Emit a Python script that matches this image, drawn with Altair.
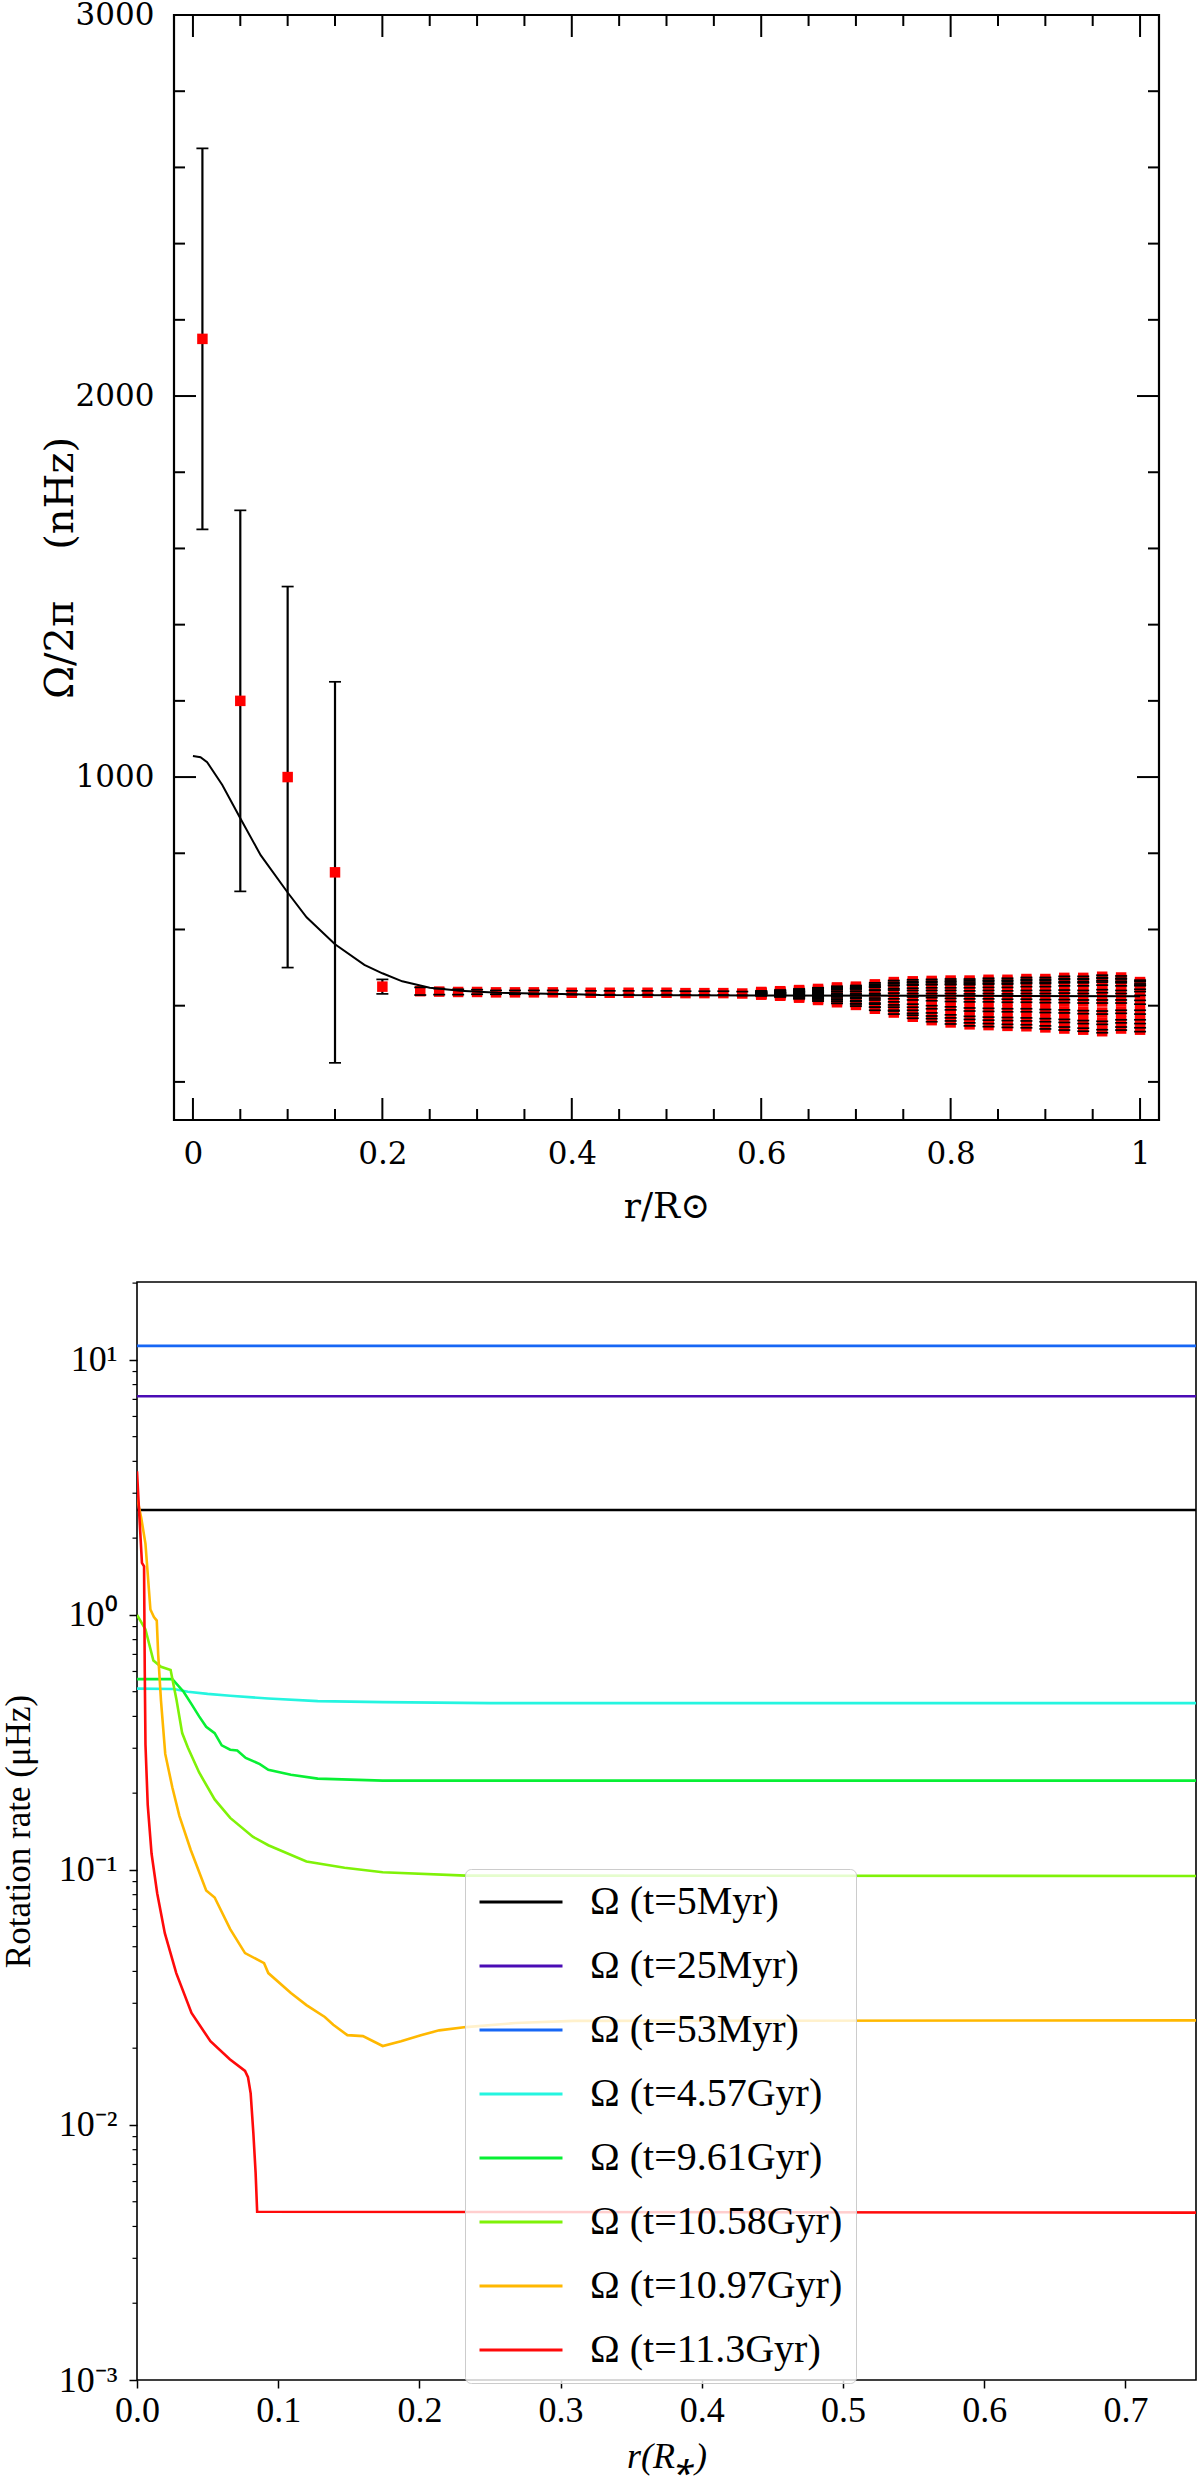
import altair as alt
import pandas as pd

# ---------------- top panel data (Omega/2pi in nHz vs r/Rsun) ----------------
inner_r = [0.01, 0.05, 0.10, 0.15, 0.20, 0.24, 0.26, 0.28, 0.30, 0.32, 0.34, 0.36,
           0.38, 0.40, 0.42, 0.44, 0.46, 0.48, 0.50, 0.52, 0.54, 0.56, 0.58]
inner_val = [2150, 1200, 1000, 750, 450, 438, 437, 436, 436, 435, 435, 435,
             435, 434, 434, 434, 434, 434, 434, 433, 433, 433, 432]
inner_err = [500, 500, 500, 500, 19, 10, 8, 7, 6, 5, 5, 5,
             5, 5, 5, 5, 5, 5, 5, 5, 5, 5, 5]

outer_r = [0.60, 0.62, 0.64, 0.66, 0.68, 0.70, 0.72, 0.74, 0.76, 0.78, 0.80,
           0.82, 0.84, 0.86, 0.88, 0.90, 0.92, 0.94, 0.96, 0.98, 1.00]
outer_val = [
    [436, 435, 434, 433, 432, 431, 430, 429],
    [438, 437, 435, 433, 431, 429, 427, 426],
    [441, 439, 436, 433, 429, 426, 423, 421],
    [444, 441, 437, 433, 428, 423, 418, 415],
    [448, 445, 440, 434, 427, 420, 414, 409],
    [450, 447, 441, 434, 425, 416, 408, 402],
    [456, 452, 445, 436, 424, 411, 400, 392],
    [462, 457, 449, 437, 422, 406, 392, 382],
    [464, 459, 450, 436, 419, 400, 384, 371],
    [465, 460, 451, 436, 417, 396, 377, 362],
    [466, 461, 451, 436, 415, 393, 372, 356],
    [466, 462, 451, 435, 414, 390, 368, 351],
    [468, 463, 452, 436, 414, 389, 366, 349],
    [468, 463, 452, 435, 413, 388, 365, 347],
    [470, 465, 454, 436, 413, 388, 364, 346],
    [470, 465, 454, 436, 412, 386, 362, 343],
    [473, 467, 456, 437, 412, 385, 360, 340],
    [473, 467, 456, 436, 411, 383, 357, 337],
    [476, 470, 458, 438, 411, 382, 355, 333],
    [474, 468, 456, 436, 411, 384, 359, 340],
    [462, 458, 448, 432, 409, 383, 358, 337],
]
outer_err = [3, 3, 3, 3, 3, 3, 4, 4, 4, 4, 4, 4, 4, 4, 4, 4, 4, 4, 4, 4, 5]

model_r = [0.0, 0.008, 0.015, 0.031, 0.05, 0.0715, 0.10, 0.12, 0.15, 0.181, 0.20,
           0.221, 0.25, 0.282, 0.322, 0.403, 0.43, 0.6, 0.8, 1.0]
model_val = [1055, 1052, 1039, 979, 892, 795, 697, 632, 561, 507, 485,
             464, 447, 439, 434, 430, 428, 427, 426, 425]

top_y_major = [1000, 2000, 3000]
top_y_minor = [200, 400, 600, 800, 1200, 1400, 1600, 1800, 2200, 2400, 2600, 2800]
top_x_major = [0.0, 0.2, 0.4, 0.6, 0.8, 1.0]
top_x_minor = [0.05, 0.1, 0.15, 0.25, 0.3, 0.35, 0.45, 0.5, 0.55, 0.65, 0.7,
               0.75, 0.85, 0.9, 0.95]

# ---------------- bottom panel data (rotation rate in microHz vs r/R*) ----------------
labels = ["Ω (t=5Myr)", "Ω (t=25Myr)", "Ω (t=53Myr)", "Ω (t=4.57Gyr)",
          "Ω (t=9.61Gyr)", "Ω (t=10.58Gyr)", "Ω (t=10.97Gyr)", "Ω (t=11.3Gyr)"]
colors = ["#000000", "#4a0cb5", "#1767f5", "#25f5e0",
          "#08f034", "#7ff208", "#ffb800", "#ff0a0a"]

x_5myr = [0.0, 0.75]
y_5myr = [2.58, 2.58]
x_25myr = [0.0, 0.75]
y_25myr = [7.2, 7.2]
x_53myr = [0.0, 0.75]
y_53myr = [11.35, 11.35]
x_457 = [0.0, 0.026, 0.036, 0.05, 0.066, 0.093, 0.128, 0.174, 0.25, 0.75]
y_457 = [0.514, 0.512, 0.50, 0.49, 0.482, 0.47, 0.459, 0.455, 0.451, 0.451]
x_961 = [0.0, 0.025, 0.033, 0.0386, 0.044, 0.049, 0.055, 0.06, 0.066, 0.071, 0.077,
         0.087, 0.093, 0.109, 0.128, 0.174, 0.25, 0.75]
y_961 = [0.56, 0.56, 0.50, 0.447, 0.40, 0.364, 0.344, 0.308, 0.296, 0.294, 0.275,
         0.26, 0.247, 0.236, 0.228, 0.224, 0.224, 0.224]
x_1058 = [0.0, 0.006, 0.0116, 0.017, 0.0238, 0.028, 0.032, 0.036, 0.044, 0.055,
          0.066, 0.082, 0.093, 0.12, 0.147, 0.174, 0.233, 0.75]
y_1058 = [1.0, 0.877, 0.662, 0.626, 0.608, 0.464, 0.344, 0.302, 0.241, 0.189,
          0.16, 0.135, 0.125, 0.108, 0.102, 0.098, 0.095, 0.0947]
x_1097 = [0.0, 0.003, 0.006, 0.0095, 0.012, 0.014, 0.015, 0.017, 0.02, 0.025, 0.03,
          0.038, 0.049, 0.055, 0.066, 0.0765, 0.09, 0.093, 0.109, 0.12, 0.133,
          0.139, 0.149, 0.16, 0.174, 0.187, 0.201, 0.214, 0.233, 0.268, 0.309, 0.75]
y_1097 = [2.9, 2.4, 1.9, 1.05, 0.98, 0.95, 0.7, 0.46, 0.285, 0.211, 0.163,
          0.12, 0.083, 0.078, 0.0586, 0.0472, 0.0431, 0.0394, 0.0329, 0.0295, 0.0265,
          0.0247, 0.0225, 0.0223, 0.0204, 0.0213, 0.0225, 0.0235, 0.0242, 0.0251, 0.0256, 0.0257]
x_113 = [0.0, 0.0014, 0.0035, 0.005, 0.0055, 0.006, 0.0076, 0.0103, 0.0143, 0.0197,
         0.0278, 0.0386, 0.052, 0.0657, 0.0765, 0.0786, 0.0805, 0.0824, 0.084, 0.0851, 0.75]
y_113 = [3.66, 2.6, 1.6, 1.55, 0.6, 0.31, 0.18, 0.116, 0.081, 0.0565,
         0.0394, 0.0275, 0.0213, 0.0181, 0.0163, 0.0154, 0.0133, 0.0093, 0.0065, 0.00457, 0.00453]

series_x = [x_5myr, x_25myr, x_53myr, x_457, x_961, x_1058, x_1097, x_113]
series_y = [y_5myr, y_25myr, y_53myr, y_457, y_961, y_1058, y_1097, y_113]

bot_x_major = [0.0, 0.1, 0.2, 0.3, 0.4, 0.5, 0.6, 0.7]
bot_y_major = [0.001, 0.01, 0.1, 1, 10]
bot_y_minor = [0.002, 0.003, 0.004, 0.005, 0.006, 0.007, 0.008, 0.009,
               0.02, 0.03, 0.04, 0.05, 0.06, 0.07, 0.08, 0.09,
               0.2, 0.3, 0.4, 0.5, 0.6, 0.7, 0.8, 0.9,
               2, 3, 4, 5, 6, 7, 8, 9, 20]

# ---------------- build tables ----------------
rows = []
for r, v, e in zip(inner_r, inner_val, inner_err):
    rows.append({"r": r, "w": v, "lo": v - e, "hi": v + e})
for r, vals, e in zip(outer_r, outer_val, outer_err):
    for v in vals:
        rows.append({"r": r, "w": v, "lo": v - e, "hi": v + e})
pts = pd.DataFrame(rows)
caps = pd.concat([
    pts[["r", "lo"]].rename(columns={"lo": "c"}),
    pts[["r", "hi"]].rename(columns={"hi": "c"}),
], ignore_index=True)
model = pd.DataFrame({"r": model_r, "w": model_val})

lrows = []
for lab, xs, ys in zip(labels, series_x, series_y):
    for i, (xv, yv) in enumerate(zip(xs, ys)):
        lrows.append({"series": lab, "x": xv, "y": yv, "i": i})
lines_df = pd.DataFrame(lrows)

# ---------------- top panel ----------------
W1, H1 = 985, 1105
W2, H2 = 1059, 1098
SERIF1 = "DejaVu Serif"
SERIF2 = "Liberation Serif"
NB = "\u00a0"

xs1 = alt.Scale(domain=[-0.02, 1.02], nice=False, zero=False)
ys1 = alt.Scale(domain=[100, 3000], nice=False, zero=False)

x_axis1 = alt.Axis(title="r/R⊙", values=top_x_major, format="~g", ticks=False,
                   domain=False, grid=False, labelFont=SERIF1, labelFontSize=31,
                   labelPadding=19, labelColor="black", labelFlush=False,
                   titleFont=SERIF1, titleFontSize=36, titleFontWeight="normal",
                   titleColor="black", titleBaseline="middle", titleY=86)
y_axis1 = alt.Axis(title="Ω/2π" + NB * 4 + "(nHz)", values=top_y_major, format="d",
                   ticks=False, domain=False, grid=False, labelFont=SERIF1,
                   labelFontSize=31, labelPadding=20, labelColor="black",
                   labelFlush=False, titleFont=SERIF1, titleFontSize=40,
                   titleFontWeight="normal", titleColor="black",
                   titleBaseline="middle", titleX=-114, titleY=H1 / 2)

bars = alt.Chart(pts).mark_rule(color="black", strokeWidth=2.2).encode(
    x=alt.X("r:Q", scale=xs1, axis=x_axis1),
    y=alt.Y("lo:Q", scale=ys1, axis=y_axis1),
    y2="hi:Q",
)
squares = alt.Chart(pts).mark_square(size=110, color="#ff0000", opacity=1).encode(
    x=alt.X("r:Q", scale=xs1),
    y=alt.Y("w:Q", scale=ys1),
)
capmarks = alt.Chart(caps).mark_tick(orient="horizontal", size=12, thickness=1.7,
                                      color="black", opacity=1).encode(
    x=alt.X("r:Q", scale=xs1),
    y=alt.Y("c:Q", scale=ys1),
)
model_line = alt.Chart(model).mark_line(color="black", strokeWidth=2).encode(
    x=alt.X("r:Q", scale=xs1),
    y=alt.Y("w:Q", scale=ys1),
)


def yticks(vals, x0, x1, scale, width=2):
    return alt.Chart(pd.DataFrame({"v": vals})).mark_rule(
        color="black", strokeWidth=width).encode(
        y=alt.Y("v:Q", scale=scale), x=alt.value(x0), x2=alt.value(x1))


def xticks(vals, y0, y1, scale, width=2):
    return alt.Chart(pd.DataFrame({"v": vals})).mark_rule(
        color="black", strokeWidth=width).encode(
        x=alt.X("v:Q", scale=scale), y=alt.value(y0), y2=alt.value(y1))


top_ticks = [
    yticks(top_y_major, 0, 22, ys1), yticks(top_y_minor, 0, 11, ys1),
    yticks(top_y_major, W1, W1 - 22, ys1), yticks(top_y_minor, W1, W1 - 11, ys1),
    xticks(top_x_major, H1, H1 - 22, xs1), xticks(top_x_minor, H1, H1 - 11, xs1),
    xticks(top_x_major, 0, 22, xs1), xticks(top_x_minor, 0, 11, xs1),
]

top = alt.layer(bars, squares, capmarks, model_line, *top_ticks).properties(
    width=W1, height=H1,
    view=alt.ViewBackground(stroke="black", strokeWidth=2.2),
)

# ---------------- bottom panel ----------------
xs2 = alt.Scale(domain=[0, 0.75], nice=False, zero=False)
ys2 = alt.Scale(type="log", domain=[0.001, 20.2], nice=False)

log_label = ("datum.value > 5 ? '10¹' : datum.value > 0.5 ? '10⁰' : "
             "datum.value > 0.05 ? '10⁻¹' : datum.value > 0.005 ? '10⁻²' : '10⁻³'")

x_axis2 = alt.Axis(title="r(R⁎)", values=bot_x_major, format=".1f", tickSize=8,
                   tickWidth=1.5, tickColor="black", domain=False, grid=False,
                   labelFont=SERIF2, labelFontSize=36, labelPadding=5,
                   labelColor="black", labelFlush=False, titleFont=SERIF2,
                   titleFontSize=36, titleFontStyle="italic", titleFontWeight="normal",
                   titleColor="black", titleBaseline="middle", titleY=76)
y_axis2 = alt.Axis(title="Rotation rate (μHz)", values=bot_y_major, labelExpr=log_label,
                   tickSize=8, tickWidth=1.5, tickColor="black", domain=False,
                   grid=False, labelFont=SERIF2, labelFontSize=36, labelPadding=12,
                   labelColor="black", labelFlush=False, titleFont=SERIF2,
                   titleFontSize=35, titleFontWeight="normal", titleColor="black",
                   titleBaseline="middle", titleX=-119, titleY=H2 / 2)

legend = alt.Legend(orient="none", legendX=328, legendY=587, title=None,
                    symbolType="stroke", symbolSize=6889, symbolStrokeWidth=3,
                    clipHeight=40,
                    labelFont=SERIF2, labelFontSize=40, labelOffset=26, padding=13,
                    rowPadding=24, fillColor="rgba(255,255,255,0.8)",
                    strokeColor="#cccccc", cornerRadius=6, labelLimit=800,
                    labelColor="black")

rot_lines = alt.Chart(lines_df).mark_line(strokeWidth=2.6, clip=True).encode(
    x=alt.X("x:Q", scale=xs2, axis=x_axis2),
    y=alt.Y("y:Q", scale=ys2, axis=y_axis2),
    color=alt.Color("series:N", scale=alt.Scale(domain=labels, range=colors),
                    legend=legend),
    order="i:Q",
)
minor_log = yticks(bot_y_minor, 0, -4.5, ys2, width=1.2)

bottom = alt.layer(rot_lines, minor_log).properties(
    width=W2, height=H2,
    view=alt.ViewBackground(stroke="black", strokeWidth=1.6),
)

chart = alt.vconcat(top, bottom, spacing=162, center=True, bounds="flush").resolve_legend(
    color="independent"
).properties(
    padding={"left": 0, "top": -3, "right": 2, "bottom": 4},
).configure(background="white")

chart.save("out.html", embed_options={"renderer": "svg", "actions": False})
